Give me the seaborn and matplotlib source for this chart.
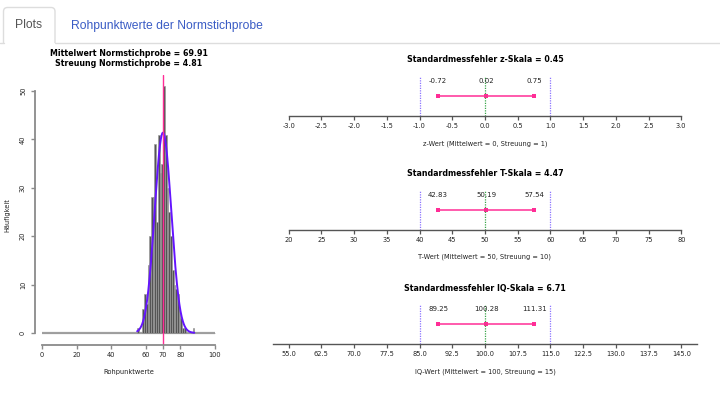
import numpy as np
import pandas as pd
import matplotlib
matplotlib.use("Agg")
import matplotlib.pyplot as plt
from matplotlib.patches import FancyBboxPatch, Rectangle
import seaborn as sns

sns.set_style("white")
plt.rcParams['font.family'] = ['DejaVu Sans']

# Rohpunktwerte der Normstichprobe: Anzahl je Bin (Bin-Start -> Häufigkeit)
bin_starts = list(range(55, 88))
bin_counts = [1, 0, 0, 5, 8, 6, 14, 20, 28, 28, 39, 23, 41, 33, 35, 51, 41,
              30, 25, 20, 13, 10, 9, 8, 5, 3, 1, 1, 0, 0, 0, 0, 1]
raw_mean = 69.91
raw_sd = 4.81
raw_ticks = [0, 20, 40, 60, 70, 80, 100]

# Standardmessfehler / Konfidenzintervalle je Skala
scale_names = ['z-Skala', 'T-Skala', 'IQ-Skala']
scale_se = [0.45, 4.47, 6.71]
ci_lower = [-0.72, 42.83, 89.25]
ci_point = [0.02, 50.19, 100.28]
ci_upper = [0.75, 57.54, 111.31]
scale_mean = [0, 50, 100]
scale_sd = [1, 10, 15]
scale_xlabels = ['z-Wert (Mittelwert = 0, Streuung = 1)',
                 'T-Wert (Mittelwert = 50, Streuung = 10)',
                 'IQ-Wert (Mittelwert = 100, Streuung = 15)']
scale_ticks = [[-3.0, -2.5, -2.0, -1.5, -1.0, -0.5, 0.0, 0.5, 1.0, 1.5, 2.0, 2.5, 3.0],
               [20, 25, 30, 35, 40, 45, 50, 55, 60, 65, 70, 75, 80],
               [55.0, 62.5, 70.0, 77.5, 85.0, 92.5, 100.0, 107.5, 115.0, 122.5, 130.0, 137.5, 145.0]]
tick_fmt = ['%.1f', '%d', '%.1f']

pink = '#ff2d96'
axis_grey = '#8a8a8a'
txt = '#222222'

fig = plt.figure(figsize=(7.2, 3.98), dpi=100)

# overlay in pixel coordinates for the tab bar and free texts
bg = fig.add_axes([0, 0, 1, 1])
bg.set_xlim(0, 720)
bg.set_ylim(398, 0)
bg.axis('off')
bg.add_patch(FancyBboxPatch((3.5, 7.5), 51.5, 42, boxstyle="round,pad=0,rounding_size=4",
                            ec='#dddddd', fc='white', lw=1))
bg.add_patch(Rectangle((2, 43), 56, 8, fc='white', ec='none'))
bg.plot([0, 3.5], [42.5, 42.5], color='#dddddd', lw=1)
bg.plot([55, 720], [42.5, 42.5], color='#dddddd', lw=1)
bg.text(28.5, 28.5, 'Plots', ha='center', va='baseline', fontsize=8.7,
        color='#555555', family='Liberation Sans')
bg.text(71, 28.5, 'Rohpunktwerte der Normstichprobe', ha='left', va='baseline',
        fontsize=8.7, color='#3a5cc5', family='Liberation Sans')

# ---- Histogramm ----
ax = fig.add_axes([35 / 720, 1 - 345 / 398, 187 / 720, 270 / 398])
all_bins = np.arange(0, 100)
weights = np.zeros(len(all_bins))
for b, c in zip(bin_starts, bin_counts):
    weights[b] = c
hist_df = pd.DataFrame({'score': all_bins + 0.5, 'count': weights})
# zero-height bins show up as a grey baseline over the full range
ax.hlines(0, 0, 100, color='#a0a0a0', lw=1.6, zorder=0)
sns.histplot(data=hist_df, x='score', weights='count', binwidth=1, binrange=(0, 100),
             color='#555555', edgecolor='#9c9c9c', linewidth=0.45, alpha=1, ax=ax)
n_total = sum(bin_counts)
xs = np.linspace(bin_starts[0], bin_starts[-1] + 1, 300)
dens = n_total * np.exp(-0.5 * ((xs - raw_mean) / raw_sd) ** 2) / (raw_sd * np.sqrt(2 * np.pi))
sns.lineplot(x=xs, y=dens, color='#6414ff', lw=1.4, ax=ax)
ax.axvline(raw_mean, color=pink, lw=1)
ax.set_xlim(-4, 104)
ax.set_ylim(-2.5, 53.3)
ax.set_xticks(raw_ticks)
ax.set_yticks([0, 10, 20, 30, 40, 50])
ax.set_xlabel('')
ax.set_ylabel('')
for s in ['top', 'right']:
    ax.spines[s].set_visible(False)
ax.spines['left'].set_bounds(0, 50)
ax.spines['bottom'].set_bounds(0, 100)
for s in ['left', 'bottom']:
    ax.spines[s].set_color(axis_grey)
    ax.spines[s].set_linewidth(1.3)
ax.tick_params(axis='both', length=3, width=1, color=axis_grey, labelsize=4.8,
               labelcolor=txt, bottom=True, left=True)
ax.tick_params(axis='y', pad=3.5)
ax.tick_params(axis='x', pad=2)
for lab in ax.get_yticklabels():
    lab.set_rotation(90)
    lab.set_va('center')
ax.patch.set_alpha(0)

bg.text(128.5, 53, 'Mittelwert Normstichprobe = %.2f' % raw_mean, ha='center', va='center',
        fontsize=5.7, fontweight='bold', color='black')
bg.text(128.5, 64, 'Streuung Normstichprobe = %.2f' % raw_sd, ha='center', va='center',
        fontsize=5.7, fontweight='bold', color='black')
bg.text(128.5, 372, 'Rohpunktwerte', ha='center', va='center', fontsize=4.8, color=txt)
bg.text(7, 215, 'Häufigkeit', ha='center', va='center', rotation=90, fontsize=4.8, color=txt)

# ---- Standardmessfehler-Skalen ----
panel_tops = [75.5, 189.5, 303.5]
title_ys = [59, 173, 288]
xlabel_ys = [143.5, 257, 371.5]
dots = (0, (1, 1))
for i in range(3):
    top = panel_tops[i]
    a = fig.add_axes([273 / 720, 1 - (top + 40) / 398, 424 / 720, 40 / 398])
    ticks = scale_ticks[i]
    pad = (ticks[-1] - ticks[0]) * 0.04
    m, sd = scale_mean[i], scale_sd[i]
    a.axvline(m - sd, color='#8c74ff', lw=0.9, ls=dots)
    a.axvline(m + sd, color='#8c74ff', lw=0.9, ls=dots)
    a.axvline(m, color='#3aa64a', lw=0.9, ls=dots)
    sns.lineplot(x=[ci_lower[i], ci_upper[i]], y=[0.5, 0.5], color=pink, lw=1.1, ax=a)
    sns.scatterplot(x=[ci_lower[i], ci_point[i], ci_upper[i]], y=[0.5, 0.5, 0.5],
                    marker='s', s=7, color=pink, edgecolor=pink, linewidth=0, ax=a)
    for v in [ci_lower[i], ci_point[i], ci_upper[i]]:
        a.text(v, 0.87, '%.2f' % v, ha='center', va='center', fontsize=5, color=txt)
    a.set_xlim(ticks[0] - pad, ticks[-1] + pad)
    a.set_ylim(0, 1)
    a.set_xticks(ticks)
    a.set_xticklabels([tick_fmt[i] % t for t in ticks])
    a.set_yticks([])
    a.set_xlabel('')
    a.set_ylabel('')
    for s in ['top', 'right', 'left']:
        a.spines[s].set_visible(False)
    a.spines['bottom'].set_color('#555555')
    a.spines['bottom'].set_linewidth(1)
    if i < 2:
        a.spines['bottom'].set_bounds(ticks[0], ticks[-1])
    a.tick_params(axis='x', length=3, width=0.9, color='#555555', labelsize=4.8,
                  labelcolor=txt, bottom=True, pad=2.5)
    a.patch.set_alpha(0)
    bg.text(485, title_ys[i], 'Standardmessfehler %s = %.2f' % (scale_names[i], scale_se[i]),
            ha='center', va='center', fontsize=5.7, fontweight='bold', color='black')
    bg.text(485, xlabel_ys[i], scale_xlabels[i], ha='center', va='center', fontsize=4.8, color=txt)

fig.savefig('out.png', dpi=100)
